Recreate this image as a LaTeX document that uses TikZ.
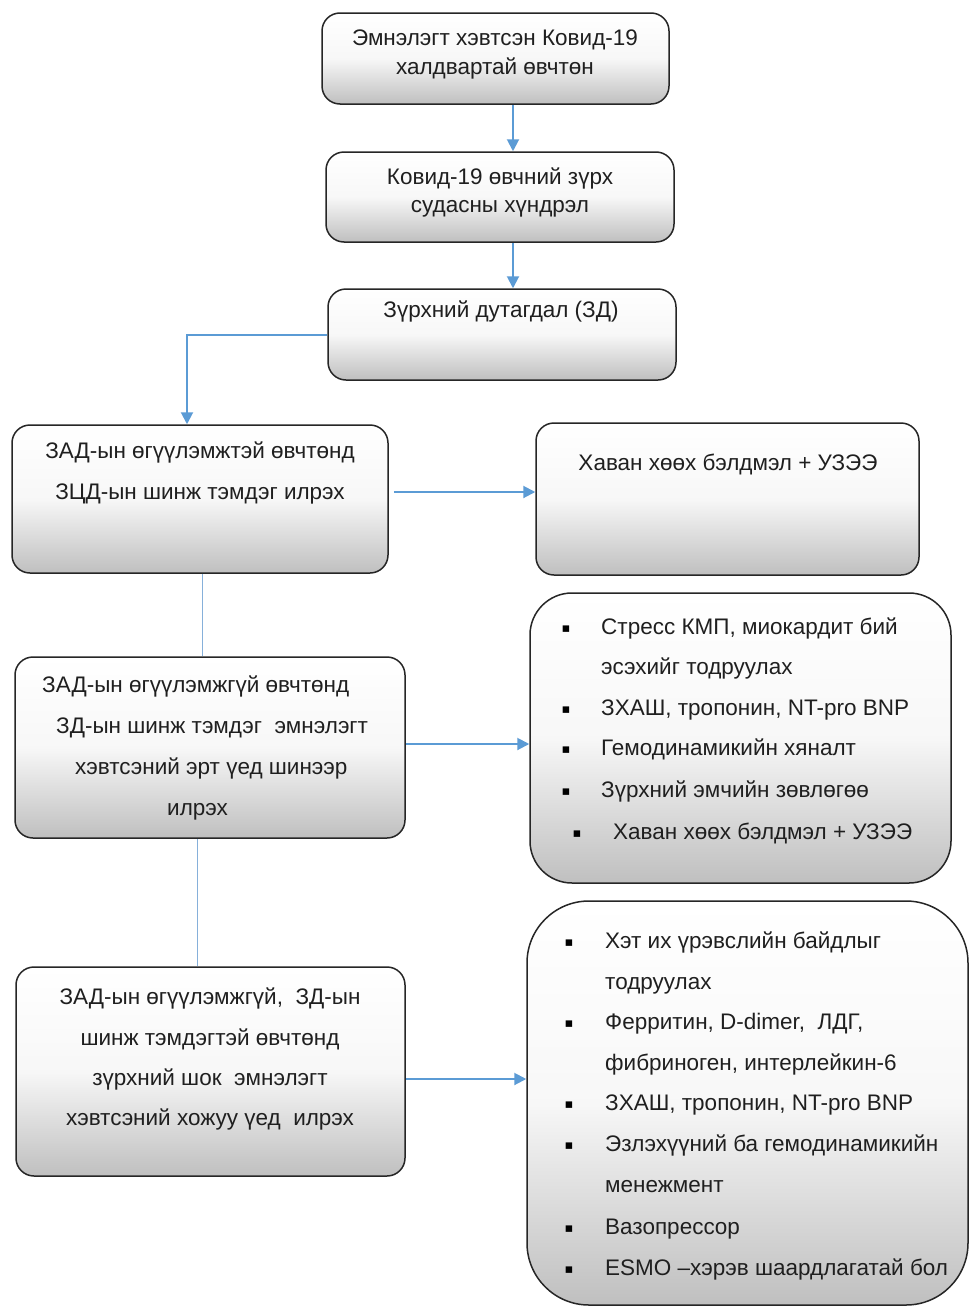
\documentclass[tikz,border=0pt]{standalone}
\usepackage{fontspec}
\setmainfont{Liberation Sans}
\newfontfamily\symfont{DejaVu Sans}
\usetikzlibrary{arrows.meta,calc}
\definecolor{arrowblue}{HTML}{5B9BD5}
\definecolor{lineblue}{HTML}{86B0DA}
\begin{document}
\begin{tikzpicture}[x=1pt,y=-1pt,
  box/.style={draw=black!85, line width=1.5pt, rounded corners=18pt, top color=white, bottom color=black!25, middle color=white!97!black, inner sep=0pt},
  txt/.style={font=\fontsize{22.5}{26}\selectfont, text=black!88, inner sep=0pt, anchor=mid},
  ltxt/.style={txt, anchor=mid west},
  bul/.style={font=\symfont\fontsize{13}{13}\selectfont, text=black, inner sep=0pt, anchor=center, yshift=3pt},
  arr/.style={draw=arrowblue, line width=2pt, -{Triangle[length=12pt,width=12pt]}},
  thinline/.style={draw=lineblue, line width=1pt}]
\fill[white] (0,0) rectangle (971,1309);
\useasboundingbox (0,0) rectangle (971,1309);

% boxes
\node[box, minimum width=347pt, minimum height=91pt] (b1) at (495.5,58.5) {};
\node[box, minimum width=348pt, minimum height=90pt] (b2) at (500,197) {};
\node[box, minimum width=348pt, minimum height=91pt] (b3) at (502,334.5) {};
\node[box, minimum width=376pt, minimum height=148pt] (b4) at (200,499) {};
\node[box, minimum width=383pt, minimum height=152pt] (b5) at (727.5,499) {};
\node[box, minimum width=390pt, minimum height=181pt] (b6) at (210,747.5) {};
\node[box, rounded corners=42pt, minimum width=421pt, minimum height=290pt] (b7) at (740.5,738) {};
\node[box, minimum width=389pt, minimum height=209pt] (b8) at (210.5,1071.5) {};
\node[box, rounded corners=62pt, minimum width=441pt, minimum height=404pt] (b9) at (747.5,1103) {};

% texts
\node[txt] (t1a) at (495,43) {Эмнэлэгт хэвтсэн Ковид-19};
\node[txt] (t1b) at (495,72) {халдвартай өвчтөн};
\node[txt] (t2a) at (500,182) {Ковид-19 өвчний зүрх};
\node[txt] (t2b) at (500,210) {судасны хүндрэл};
\node[txt] (t3) at (501,315) {Зүрхний дутагдал (ЗД)};
\node[txt] (t4a) at (200,456) {ЗАД-ын өгүүлэмжтэй өвчтөнд};
\node[txt] (t4b) at (200,497) {ЗЦД-ын шинж тэмдэг илрэх};
\node[txt] (t5) at (728,468) {Хаван хөөх бэлдмэл + УЗЭЭ};
\node[ltxt] (t6a) at (42,690) {ЗАД-ын өгүүлэмжгүй өвчтөнд};
\node[ltxt] (t6b) at (56,731) {ЗД-ын шинж тэмдэг\ \ эмнэлэгт};
\node[ltxt] (t6c) at (75,772) {хэвтсэний эрт үед шинээр};
\node[ltxt] (t6d) at (167,813) {илрэх};
\node[txt] (t8a) at (210,1002) {ЗАД-ын өгүүлэмжгүй,\ \ ЗД-ын};
\node[txt] (t8b) at (210,1043) {шинж тэмдэгтэй өвчтөнд};
\node[txt] (t8c) at (210,1083) {зүрхний шок\ \ эмнэлэгт};
\node[txt] (t8d) at (210,1123) {хэвтсэний хожуу үед\ \ илрэх};

% list box 7
\node[bul] (p7a) at (566,632) {▪};
\node[ltxt] (t7a) at (601,632) {Стресс КМП, миокардит бий};
\node[ltxt] (t7b) at (601,672) {эсэхийг тодруулах};
\node[bul] (p7c) at (566,713) {▪};
\node[ltxt] (t7c) at (601,713) {ЗХАШ, тропонин, NT-pro BNP};
\node[bul] (p7d) at (566,753) {▪};
\node[ltxt] (t7d) at (601,753) {Гемодинамикийн хяналт};
\node[bul] (p7e) at (566,795) {▪};
\node[ltxt] (t7e) at (601,795) {Зүрхний эмчийн зөвлөгөө};
\node[bul] (p7f) at (577,837) {▪};
\node[ltxt] (t7f) at (613,837) {Хаван хөөх бэлдмэл + УЗЭЭ};

% list box 9
\node[bul] (p9a) at (569,946) {▪};
\node[ltxt] (t9a) at (605,946) {Хэт их үрэвслийн байдлыг};
\node[ltxt] (t9b) at (605,987) {тодруулах};
\node[bul] (p9c) at (569,1027) {▪};
\node[ltxt] (t9c) at (605,1027) {Ферритин, D-dimer,\ \ ЛДГ,};
\node[ltxt] (t9d) at (605,1068) {фибриноген, интерлейкин-6};
\node[bul] (p9e) at (569,1108) {▪};
\node[ltxt] (t9e) at (605,1108) {ЗХАШ, тропонин, NT-pro BNP};
\node[bul] (p9f) at (569,1149) {▪};
\node[ltxt] (t9f) at (605,1149) {Эзлэхүүний ба гемодинамикийн};
\node[ltxt] (t9g) at (605,1190) {менежмент};
\node[bul] (p9h) at (569,1232) {▪};
\node[ltxt] (t9h) at (605,1232) {Вазопрессор};
\node[bul] (p9i) at (569,1273) {▪};
\node[ltxt] (t9i) at (605,1273) {ESMO –хэрэв шаардлагатай бол};

% connectors
\coordinate (xa) at (513,0);
\draw[arr] (xa |- b1.south) -- (xa |- b2.north);
\draw[arr] (xa |- b2.south) -- (xa |- b3.north);
\coordinate (xb) at (187,0);
\draw[arr] (b3.west) -| (xb |- b4.north);
\coordinate (ya) at (0,492);
\draw[arr] ($(b4.east |- ya)+(5,0)$) -- (b5.west |- ya);
\coordinate (xc) at (202,0);
\draw[thinline] (xc |- b4.south) -- (xc |- b6.north);
\coordinate (yb) at (0,744);
\draw[arr] (b6.east |- yb) -- (b7.west |- yb);
\coordinate (xd) at (197,0);
\draw[thinline] (xd |- b6.south) -- (xd |- b8.north);
\coordinate (yc) at (0,1079);
\draw[arr] (b8.east |- yc) -- (b9.west |- yc);
\end{tikzpicture}
\end{document}
